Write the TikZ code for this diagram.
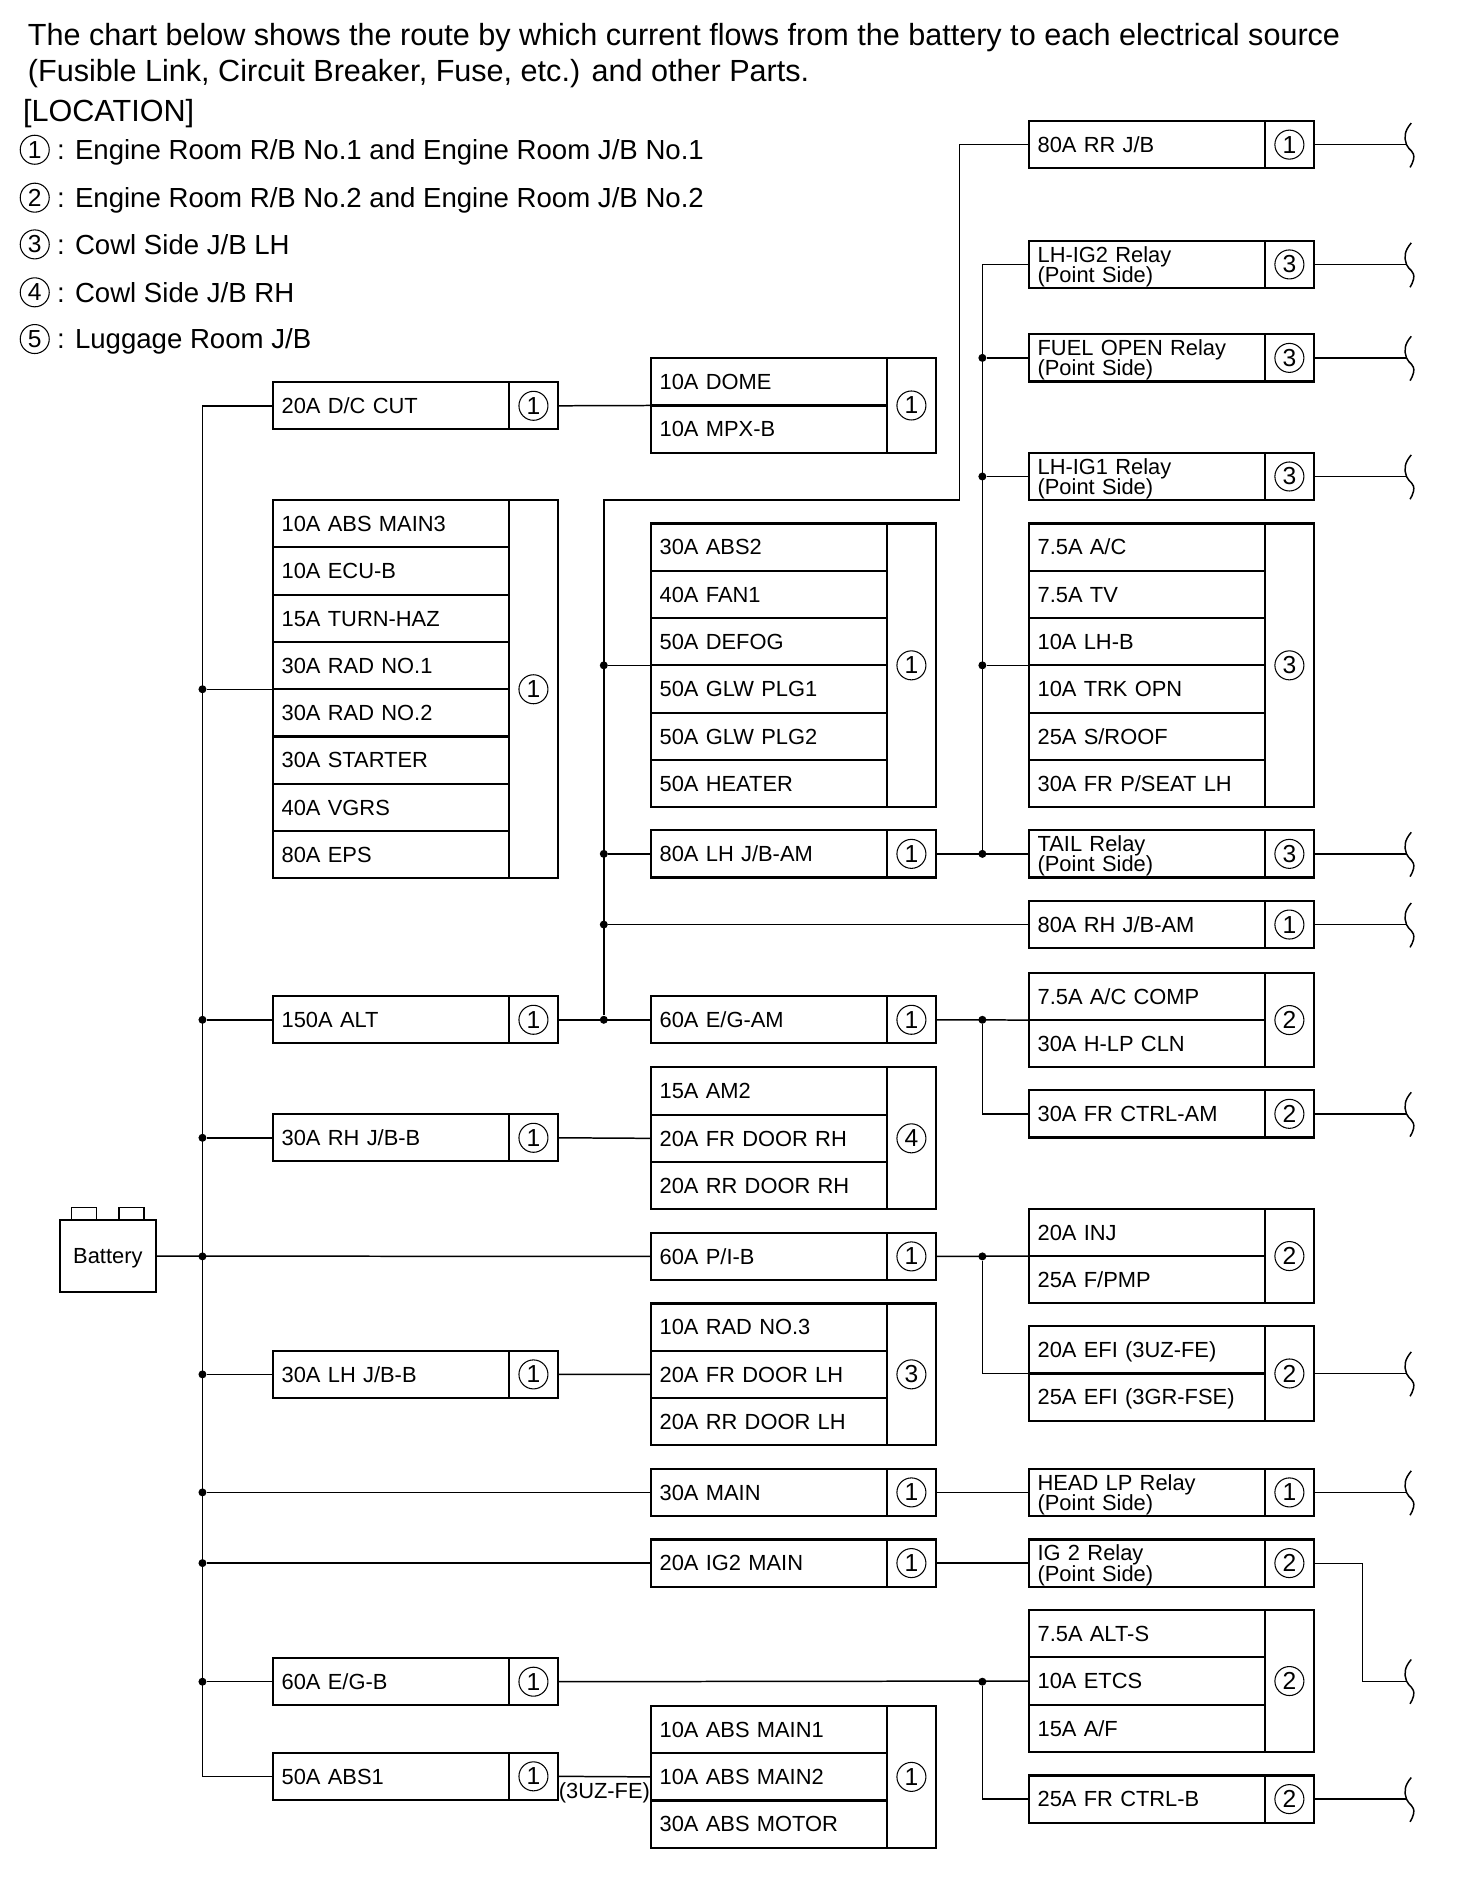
\documentclass[tikz,border=0pt]{standalone}
\usepackage{fontspec}
\setmainfont{Liberation Sans}
\usetikzlibrary{fit,positioning}
\setlength{\lineskiplimit}{-5pt}
\setlength{\normallineskiplimit}{-5pt}

\tikzset{
        rowfont/.style={font=\fontsize{12.45}{11.6}\selectfont,
                        text height=8.9pt, text depth=0pt},
        fuserow/.style={draw, line width=1.2pt, rectangle, anchor=north west,
                        outer sep=0pt, inner xsep=0.17cm, inner ysep=0pt,
                        minimum height=0.9452cm, text width=4.38cm, align=left, rowfont},
        relayrow/.style={text depth=11.6pt},
        loccell/.style={draw, line width=1.2pt, rectangle, anchor=north west,
                        outer sep=0pt, minimum width=0.97cm},
        locnum/.style={draw, circle, line width=.6pt, inner sep=0pt,
                       minimum size=0.58cm, font=\fontsize{14}{14}\selectfont},
        wholebox/.style={inner sep=0pt, outer sep=0pt},
        wire/.style={line width=.85pt},
        thinwire/.style={line width=.4pt},
        joint/.style={circle, fill, inner sep=0pt, minimum size=0.16cm},
        legendtext/.style={font=\fontsize{15.7}{18}\selectfont, inner sep=0pt,
                           text height=11.3pt, text depth=0pt},
        headtext/.style={font=\fontsize{17.4}{18}\selectfont, inner sep=0pt, anchor=west,
                         text height=12.4pt, text depth=0pt},
        wavyend/.pic={\draw [line width=.85pt]
                (4, -18) .. controls (-2, -11) and (-2, -6) .. (0, 0)
                .. controls (2, 5) and (7, 5) .. (6, 12)
                .. controls (5.5, 15) and (4, 17) .. (3, 19);}
}

% [row style], name, left, top, rows, location, row labels
\newcommand{\fusestack}[7][]{
        \foreach \lab [count=\i] in {#7} {
                \node [fuserow, #1] (#2-\i) at (#3, {#4 + (\i - 1) * 39.45}) {\lab};
        }
        \node [loccell, minimum height={#5 * 0.9452cm}] (#2-cell)
                at (#2-1.north east) {};
        \node [wholebox, fit=(#2-1)(#2-#5)(#2-cell)] (#2) {};
        \node [locnum] (#2-num) at (#2-cell.center) {#6};
}

% wire from a box to a free end with the wavy mark
\newcommand{\wavywire}[1]{
        \coordinate (#1-end) at (1174, 0 |- #1.east);
        \draw [wire] (#1.east) -- (#1-end);
        \pic at (#1-end) {wavyend};
}

\begin{document}
\begin{tikzpicture}[x=0.02396cm, y=-0.02396cm]
        \useasboundingbox (0, 0) rectangle (1228.7, 1567.6);

        \node [headtext] (headA) at (23, 29)
                {The chart below shows the route by which current flows from the battery to each electrical source};
        \node [headtext] (headB) at (23, 59)
                {(Fusible Link, Circuit Breaker, Fuse, etc.) and other Parts.};
        \node [headtext] (headC) at (19, 92) {[LOCATION]};

        \node [locnum] (leg1) at (29, 125) {1};
        \node [locnum] (leg2) at (29, 165) {2};
        \node [locnum] (leg3) at (29, 204) {3};
        \node [locnum] (leg4) at (29, 244) {4};
        \node [locnum] (leg5) at (29, 283) {5};
        \node [legendtext, right=0.14cm of leg1] {: Engine Room R/B No.1 and Engine Room J/B No.1};
        \node [legendtext, right=0.14cm of leg2] {: Engine Room R/B No.2 and Engine Room J/B No.2};
        \node [legendtext, right=0.14cm of leg3] {: Cowl Side J/B LH};
        \node [legendtext, right=0.14cm of leg4] {: Cowl Side J/B RH};
        \node [legendtext, right=0.14cm of leg5] {: Luggage Room J/B};

        % battery
        \node [draw, line width=1.2pt, minimum width=1.917cm, minimum height=1.438cm, rowfont]
                (bat) at (90, 1048.5) {Battery};
        \node [draw, line width=.9pt, anchor=south, minimum width=0.5cm, minimum height=0.25cm]
                (batL) at (70, 1019) {};
        \node [draw, line width=.9pt, anchor=south, minimum width=0.5cm, minimum height=0.25cm]
                (batR) at (110, 1019) {};

        % left column
        \fusestack{dccut}{228}{319}{1}{1}{20A D/C CUT}
        \fusestack{absmainT}{228}{417.5}{8}{1}{10A ABS MAIN3, 10A ECU-B, 15A TURN-HAZ, 30A RAD NO.1,
                30A RAD NO.2, 30A STARTER, 40A VGRS, 80A EPS}
        \fusestack{alt}{228}{831.5}{1}{1}{150A ALT}
        \fusestack{rhjbb}{228}{930}{1}{1}{30A RH J/B-B}
        \fusestack{lhjbb}{228}{1127.5}{1}{1}{30A LH J/B-B}
        \fusestack{egb}{228}{1384}{1}{1}{60A E/G-B}
        \fusestack{absone}{228}{1463}{1}{1}{50A ABS1}

        % middle column
        \fusestack{dome}{543.5}{299}{2}{1}{10A DOME, 10A MPX-B}
        \fusestack{abstwo}{543.5}{437}{6}{1}{30A ABS2, 40A FAN1, 50A DEFOG, 50A GLW PLG1, 50A GLW PLG2, 50A HEATER}
        \fusestack{lhjbam}{543.5}{693}{1}{1}{80A LH J/B-AM}
        \fusestack{egam}{543.5}{831.5}{1}{1}{60A E/G-AM}
        \fusestack{amtwo}{543.5}{891}{3}{4}{15A AM2, 20A FR DOOR RH, 20A RR DOOR RH}
        \fusestack{pib}{543.5}{1029}{1}{1}{60A P/I-B}
        \fusestack{radthree}{543.5}{1088}{3}{3}{10A RAD NO.3, 20A FR DOOR LH, 20A RR DOOR LH}
        \fusestack{mainfuse}{543.5}{1226}{1}{1}{30A MAIN}
        \fusestack{igtwomain}{543.5}{1285}{1}{1}{20A IG2 MAIN}
        \fusestack{absmain}{543.5}{1424}{3}{1}{10A ABS MAIN1, 10A ABS MAIN2, 30A ABS MOTOR}

        % right column
        \fusestack{rrjb}{859}{101}{1}{1}{80A RR J/B}
        \fusestack[relayrow]{lhigtwo}{859}{201}{1}{3}{LH-IG2 Relay\\(Point Side)}
        \fusestack[relayrow]{fuelopen}{859}{279}{1}{3}{FUEL OPEN Relay\\(Point Side)}
        \fusestack[relayrow]{lhigone}{859}{378}{1}{3}{LH-IG1 Relay\\(Point Side)}
        \fusestack{acfuse}{859}{437}{6}{3}{7.5A A/C, 7.5A TV, 10A LH-B, 10A TRK OPN, 25A S/ROOF, 30A FR P/SEAT LH}
        \fusestack[relayrow]{tail}{859}{693}{1}{3}{TAIL Relay\\(Point Side)}
        \fusestack{rhjbam}{859}{752}{1}{1}{80A RH J/B-AM}
        \fusestack{accomp}{859}{812}{2}{2}{7.5A A/C COMP, 30A H-LP CLN}
        \fusestack{frctrlam}{859}{910}{1}{2}{30A FR CTRL-AM}
        \fusestack{inj}{859}{1009}{2}{2}{20A INJ, 25A F/PMP}
        \fusestack{efi}{859}{1107}{2}{2}{20A EFI (3UZ-FE), 25A EFI (3GR-FSE)}
        \fusestack[relayrow]{headlp}{859}{1226}{1}{1}{HEAD LP Relay\\(Point Side)}
        \fusestack[relayrow]{igtworel}{859}{1285}{1}{2}{IG 2 Relay\\(Point Side)}
        \fusestack{altS}{859}{1344}{3}{2}{7.5A ALT-S, 10A ETCS, 15A A/F}
        \fusestack{frctrlb}{859}{1482}{1}{2}{25A FR CTRL-B}

        % the vertical runs
        \coordinate (busA) at (169, 0);
        \coordinate (busB) at (504, 0);
        \coordinate (busC) at (820, 0);
        \coordinate (busD) at (801, 0);
        \coordinate (busE) at (1137, 0);

        \draw [wire] (dccut.west) -- (dccut.west -| busA) -- (absone.west -| busA) -- (absone.west);
        \foreach \target in {absmainT, alt, rhjbb, pib, lhjbb, mainfuse, igtwomain, egb} {
                \node [joint] (a-\target) at (busA |- \target.west) {};
        }
        \draw [wire] (bat.east) -- (pib.west);
        \foreach \target in {absmainT, alt, rhjbb, lhjbb, mainfuse, igtwomain, egb} {
                \draw [wire] (a-\target) -- (\target.west);
        }

        \draw [wire] (dccut.east) -- (dome.west);
        \draw [wire] (rhjbb.east) -- (amtwo.west);
        \draw [wire] (lhjbb.east) -- (radthree.west);
        \draw [wire] (absone.east) -- (absmain.west)
                node [midway, below=0.1cm, inner sep=0pt, rowfont] (note) {(3UZ-FE)};

        \draw [wire] (alt.east) -- (egam.west);
        \node [joint] (b-alt) at (busB |- alt.east) {};
        \draw [wire] (b-alt) -- (b-alt |- absmainT-1.north) -- (busD |- absmainT-1.north)
                -- (busD |- rrjb.west) -- (rrjb.west);
        \foreach \target in {abstwo, lhjbam, rhjbam} {
                \node [joint] (b-\target) at (busB |- \target.west) {};
                \draw [wire] (b-\target) -- (\target.west);
        }

        \draw [wire] (lhjbam.east) -- (tail.west);
        \node [joint] (c-tail) at (busC |- tail.west) {};
        \draw [wire] (c-tail) -- (c-tail |- lhigtwo.west) -- (lhigtwo.west);
        \foreach \target in {fuelopen, lhigone, acfuse} {
                \node [joint] (c-\target) at (busC |- \target.west) {};
                \draw [wire] (c-\target) -- (\target.west);
        }

        \draw [wire] (egam.east) -- (accomp.west);
        \node [joint] (c-egam) at (busC |- egam.east) {};
        \draw [wire] (c-egam) -- (c-egam |- frctrlam.west) -- (frctrlam.west);
        \draw [wire] (pib.east) -- (inj.west);
        \node [joint] (c-pib) at (busC |- pib.east) {};
        \draw [wire] (c-pib) -- (c-pib |- efi.west) -- (efi.west);
        \draw [wire] (egb.east) -- (altS.west);
        \node [joint] (c-egb) at (busC |- egb.east) {};
        \draw [wire] (c-egb) -- (c-egb |- frctrlb.west) -- (frctrlb.west);
        \draw [wire] (mainfuse.east) -- (headlp.west);
        \draw [wire] (igtwomain.east) -- (igtworel.west);

        % free ends
        \foreach \source in {rrjb, lhigtwo, fuelopen, lhigone, tail, rhjbam, frctrlam, efi, headlp, frctrlb} {
                \wavywire{\source}
        }
        \coordinate (igtwo-end) at (1174, 0 |- altS.east);
        \draw [thinwire] (igtworel.east) -- (busE |- igtworel.east) -- (busE |- altS.east) -- (igtwo-end);
        \pic at (igtwo-end) {wavyend};
\end{tikzpicture}
\end{document}
